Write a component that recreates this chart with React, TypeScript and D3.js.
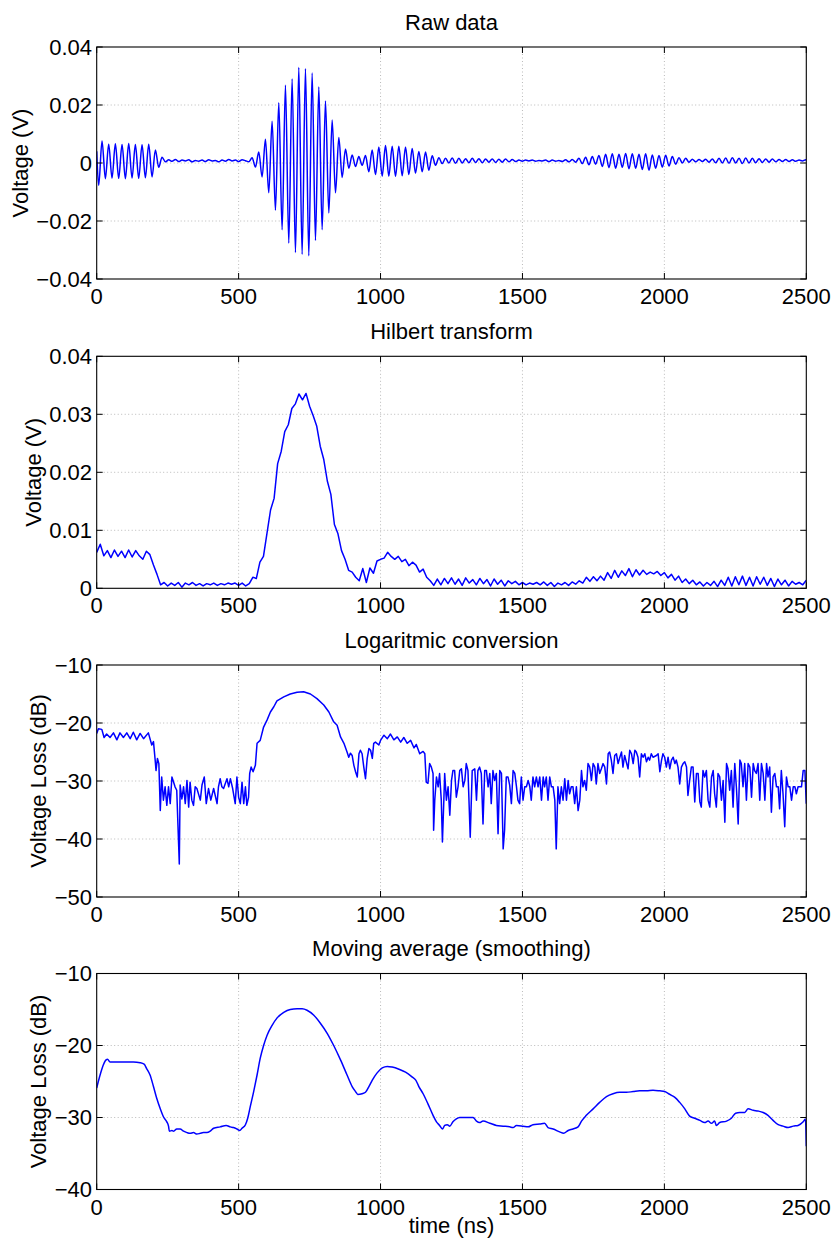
import React from 'react';
import * as d3 from 'd3';

// ---------------- DATA ----------------
const X_TICKS = [0, 500, 1000, 1500, 2000, 2500];
const RAW_TICKS = [-0.04, -0.02, 0, 0.02, 0.04];
const HIL_TICKS = [0, 0.01, 0.02, 0.03, 0.04];
const LOG_TICKS = [-50, -40, -30, -20, -10];
const AVG_TICKS = [-40, -30, -20, -10];

const TITLES = ['Raw data', 'Hilbert transform', 'Logaritmic conversion', 'Moving average (smoothing)'];
const YLABELS = ['Voltage (V)', 'Voltage (V)', 'Voltage Loss (dB)', 'Voltage Loss (dB)'];
const XLABEL = 'time (ns)';

// Raw signal: successive extrema (half-cycles) sampled every 11.75 ns from 7 ns
const RAW_T0 = 7;
const RAW_DT = 11.75;
const rawStart = 0.004;
const rawEnd = 0.0009;
const rawExtrema = [
  -0.0077, 0.0076, -0.0054, 0.0065, -0.0052, 0.0066, -0.0053, 0.0064, -0.0054, 0.0067, -0.0052, 0.0064, -0.0053, 0.0063, -0.0051, 0.0065, -0.0048, 0.0045, -0.0015, 0.0020,
  0.0004, 0.0011, 0.0006, 0.0012, 0.0005, 0.0010, 0.0007, 0.0011, 0.0004, 0.0009, 0.0006, 0.0010, 0.0005, 0.0011, 0.0007, 0.0009, 0.0004, 0.0010, 0.0006, 0.0012, 0.0007, 0.0010, 0.0005, 0.0011, 0.0008, 0.0004,
  0.0018, -0.0014, 0.0038, -0.0048, 0.0082, -0.0103, 0.0144, -0.0163, 0.0208, -0.0230, 0.0268, -0.0276, 0.0290, -0.0309, 0.0329, -0.0315, 0.0325, -0.0320, 0.0310, -0.0267, 0.0262, -0.0230, 0.0214, -0.0172, 0.0148, -0.0103, 0.0088, -0.0050, 0.0048, -0.0018, 0.0028,
  -0.0012, 0.0022, -0.0008, 0.0026, -0.0030, 0.0045, -0.0040, 0.0055, -0.0045, 0.0060, -0.0045, 0.0058, -0.0046, 0.0058, -0.0044, 0.0055, -0.0040, 0.0050, -0.0035, 0.0040, -0.0030, 0.0038, -0.0025, 0.0025,
  -0.0008, 0.0018, -0.0002, 0.0016, 0.0000, 0.0017, -0.0001, 0.0016, 0.0000, 0.0015, 0.0001, 0.0016, 0.0002, 0.0015, 0.0001, 0.0014, 0.0003, 0.0014, 0.0002, 0.0013, 0.0003, 0.0014, 0.0004, 0.0012, 0.0005,
  0.0010, 0.0006, 0.0010, 0.0007, 0.0010, 0.0006, 0.0009, 0.0007, 0.0010, 0.0005, 0.0010, 0.0006, 0.0009, 0.0005, 0.0011, 0.0004, 0.0012, 0.0003,
  0.0016, -0.0002, 0.0020, -0.0006, 0.0022, -0.0004, 0.0026, -0.0012, 0.0030, -0.0016, 0.0032, -0.0018, 0.0030, -0.0015, 0.0033, -0.0020, 0.0032, -0.0018, 0.0030, -0.0022, 0.0032, -0.0025, 0.0028, -0.0018, 0.0026, -0.0014, 0.0027, -0.0010, 0.0022, -0.0004,
  0.0018, 0.0000, 0.0016, 0.0003, 0.0013, 0.0004, 0.0012, 0.0005, 0.0013, 0.0003, 0.0014, 0.0001, 0.0016, 0.0000, 0.0017, -0.0001, 0.0018, 0.0000, 0.0016, -0.0002, 0.0017, 0.0000, 0.0016, 0.0001, 0.0015, 0.0002, 0.0014, 0.0003, 0.0014, 0.0004, 0.0012, 0.0005, 0.0012, 0.0005, 0.0011, 0.0006, 0.0010, 0.0007, 0.0011,
];

// Hilbert envelope sampled every 12.5 ns
const HIL_DT = 12.5;
const hilbertValues = [
  0.0062, 0.0076, 0.0056, 0.0065, 0.0053, 0.0066, 0.0055, 0.0064, 0.0053, 0.0066, 0.0054, 0.0065, 0.0056, 0.0050, 0.0064, 0.0058, 0.0040, 0.0024, 0.0006, 0.0010,
  0.0004, 0.0009, 0.0005, 0.0010, 0.0002, 0.0009, 0.0006, 0.0010, 0.0005, 0.0008, 0.0004, 0.0008, 0.0006, 0.0009, 0.0005, 0.0008, 0.0006, 0.0009, 0.0007, 0.0009, 0.0005, 0.0009, 0.0004, 0.0008,
  0.0019, 0.0017, 0.0045, 0.0055, 0.0095, 0.0135, 0.0155, 0.0215, 0.0236, 0.0270, 0.0282, 0.0310, 0.0318, 0.0335, 0.0325, 0.0336, 0.0314, 0.0298, 0.0280, 0.0245, 0.0222, 0.0185, 0.0162, 0.0110, 0.0094, 0.0065, 0.0050, 0.0031, 0.0028, 0.0019, 0.0013,
  0.0034, 0.0010, 0.0035, 0.0026, 0.0047, 0.0050, 0.0052, 0.0062, 0.0055, 0.0050, 0.0055, 0.0046, 0.0050, 0.0039, 0.0045, 0.0040, 0.0028, 0.0033, 0.0019, 0.0013, 0.0005,
  0.0016, 0.0006, 0.0017, 0.0008, 0.0018, 0.0007, 0.0016, 0.0005, 0.0018, 0.0009, 0.0015, 0.0006, 0.0017, 0.0008, 0.0015, 0.0004, 0.0016, 0.0007, 0.0014, 0.0004, 0.0013, 0.0008, 0.0012, 0.0006,
  0.0010, 0.0006, 0.0009, 0.0007, 0.0010, 0.0006, 0.0011, 0.0005, 0.0010, 0.0003, 0.0009, 0.0006, 0.0010, 0.0005, 0.0011, 0.0007,
  0.0013, 0.0009, 0.0019, 0.0012, 0.0020, 0.0013, 0.0021, 0.0014, 0.0027, 0.0017, 0.0031, 0.0019, 0.0030, 0.0022, 0.0034, 0.0020, 0.0032, 0.0023, 0.0031, 0.0024, 0.0028, 0.0025, 0.0029, 0.0022, 0.0027, 0.0018, 0.0024, 0.0014, 0.0021, 0.0010, 0.0016, 0.0008, 0.0014, 0.0006, 0.0011,
  0.0004, 0.0010, 0.0005, 0.0012, 0.0003, 0.0014, 0.0005, 0.0019, 0.0004, 0.0020, 0.0006, 0.0021, 0.0005, 0.0019, 0.0004, 0.0020, 0.0007, 0.0019, 0.0005, 0.0017, 0.0003, 0.0016, 0.0006, 0.0014, 0.0004, 0.0012, 0.0007, 0.0010, 0.0006, 0.0014,
];

// Logarithmic conversion: [time ns, dB]
const logPoints: [number, number][] = [
  [0,-21.8],[6,-21.0],[18,-21.1],[26,-22.5],[35,-21.9],[47,-22.5],[59,-21.7],[71,-22.9],[82,-21.7],[94,-22.5],[106,-21.7],[118,-22.7],[129,-21.6],[141,-22.9],[153,-21.8],[165,-22.7],[182,-21.7],[194,-23.8],[200,-23.2],[206,-26.4],[209,-28.2],[214,-26.1],[219,-27.0],[224,-35.1],[229,-29.3],[235,-33.3],[241,-31.0],[247,-34.2],[253,-31.0],[259,-33.9],[265,-29.3],[271,-30.2],[276,-31.0],[282,-31.6],[291,-44.3],[294,-30.7],[300,-33.1],[306,-31.0],[312,-33.9],[318,-29.9],[324,-34.5],[329,-30.2],[335,-33.3],[341,-34.2],[347,-31.0],[353,-31.3],[365,-33.3],[371,-30.7],[379,-29.3],[386,-33.9],[394,-31.3],[402,-33.3],[412,-31.3],[424,-33.9],[429,-31.0],[435,-29.6],[441,-31.0],[447,-31.3],[459,-29.6],[465,-31.0],[471,-29.6],[479,-31.3],[488,-33.9],[494,-29.3],[500,-32.8],[506,-33.9],[512,-30.2],[518,-33.9],[524,-31.0],[529,-34.2],[535,-32.8],[539,-28.7],[544,-27.6],[551,-28.4],[559,-27.3],[565,-23.5],[576,-23.0],[588,-20.7],[600,-19.5],[612,-18.1],[624,-17.2],[635,-16.2],[659,-15.5],[682,-15.0],[706,-14.7],[729,-14.6],[753,-15.0],[776,-15.8],[800,-16.9],[818,-18.1],[835,-19.8],[847,-20.4],[859,-22.4],[871,-23.5],[882,-25.0],[888,-25.9],[894,-25.2],[900,-25.6],[906,-27.3],[912,-28.4],[918,-29.3],[924,-25.3],[929,-24.7],[935,-25.3],[941,-27.6],[947,-29.6],[953,-26.1],[959,-24.4],[965,-24.7],[971,-26.1],[976,-23.5],[982,-23.3],[994,-23.8],[1000,-23.0],[1012,-22.1],[1024,-22.7],[1035,-21.9],[1047,-22.9],[1059,-22.4],[1071,-23.3],[1082,-22.5],[1094,-23.5],[1106,-23.0],[1118,-24.3],
  [1126,-23.7],[1138,-25.3],[1150,-24.9],[1156,-25.3],[1161,-30.2],[1167,-30.4],[1173,-27.0],[1179,-27.6],[1185,-28.7],[1187,-38.5],[1191,-33.3],[1197,-29.3],[1203,-31.0],[1208,-28.7],[1214,-33.3],[1218,-40.5],[1223,-33.3],[1226,-28.7],[1232,-33.3],[1238,-31.0],[1244,-35.9],[1250,-29.9],[1255,-28.2],[1261,-28.2],[1267,-32.8],[1273,-31.0],[1279,-28.2],[1285,-27.9],[1291,-31.0],[1297,-29.9],[1302,-27.0],[1308,-28.2],[1316,-39.7],[1323,-28.2],[1332,-27.9],[1338,-33.3],[1343,-28.2],[1349,-27.6],[1355,-28.7],[1361,-37.4],[1367,-28.2],[1373,-28.2],[1379,-31.0],[1385,-28.7],[1390,-33.9],[1396,-28.2],[1402,-29.9],[1408,-28.7],[1414,-39.1],[1420,-28.2],[1426,-28.7],[1432,-41.7],[1437,-38.5],[1443,-29.3],[1449,-29.3],[1455,-30.7],[1461,-33.9],[1467,-28.2],[1473,-28.7],[1479,-31.0],[1484,-33.3],[1490,-33.9],[1496,-29.3],[1502,-33.3],[1508,-31.0],[1514,-31.0],[1520,-29.9],[1526,-31.0],[1531,-33.3],[1537,-29.3],[1543,-31.0],[1549,-29.3],[1555,-31.0],[1561,-29.3],[1567,-33.3],[1573,-29.3],[1578,-31.0],[1584,-29.3],[1590,-33.3],[1596,-29.3],[1602,-31.0],[1608,-31.0],[1614,-33.3],[1619,-41.7],[1625,-31.0],[1631,-33.9],[1637,-31.0],[1643,-33.3],[1649,-29.6],[1655,-33.3],[1661,-29.9],[1666,-32.2],[1672,-31.0],[1678,-31.0],[1684,-33.9],[1690,-31.0],[1696,-35.1],[1702,-33.3],[1708,-28.2],[1713,-31.0],[1719,-29.9],[1725,-31.6],[1731,-27.0],[1737,-27.6],[1743,-29.9],[1749,-27.0],[1755,-27.6],[1760,-30.5],[1766,-27.0],[1772,-28.7],[1778,-27.9],[1784,-27.0],[1790,-27.6],[1796,-30.5],[1802,-25.3],[1807,-25.0],[1813,-26.4],[1819,-28.7],[1825,-25.6],[1831,-25.3],[1837,-27.0],[1843,-25.9],[1849,-25.0],[1854,-27.6],[1860,-25.6],[1872,-27.9],[1878,-24.7],[1884,-25.3],[1890,-27.0],[1896,-24.7],[1901,-25.0],[1907,-25.9],[1913,-29.3],[1919,-25.3],[1925,-25.9],[1931,-25.3],[1937,-26.7],[1943,-25.9],[1948,-26.4],[1954,-25.3],[1960,-25.9],[1972,-25.6],[1978,-25.3],[1984,-28.4],[1990,-26.4],[1995,-25.3],[2001,-25.9],[2007,-27.6],[2013,-25.9],[2019,-27.9],[2025,-26.4],[2031,-25.9],[2037,-27.0],[2042,-26.4],[2048,-27.6],[2054,-30.5],[2060,-27.6],[2066,-27.0],[2072,-26.7],[2078,-27.6],[2083,-32.5],[2089,-29.9],[2095,-27.6],[2101,-27.6],[2107,-33.6],[2113,-28.7],[2119,-28.7],[2125,-33.6],[2130,-34.5],[2136,-28.2],[2142,-29.3],[2148,-28.2],[2154,-33.3],[2160,-34.5],[2166,-29.3],[2172,-28.2],[2177,-32.2],[2183,-34.5],[2189,-28.7],[2195,-29.3],[2201,-33.3],[2207,-29.9],[2213,-37.1],[2219,-27.0],[2224,-27.9],[2230,-31.6],[2236,-28.2],[2242,-34.5],[2248,-27.0],[2254,-31.3],[2260,-37.4],[2266,-26.4],[2271,-27.0],[2277,-31.0],[2283,-27.0],[2289,-33.3],[2295,-27.0],[2301,-27.6],[2307,-32.8],[2313,-27.0],[2318,-28.2],[2324,-28.7],[2330,-27.0],[2336,-33.3],[2342,-27.0],[2348,-28.7],[2354,-33.3],[2360,-27.0],[2365,-29.3],[2371,-27.6],[2377,-35.4],[2383,-29.3],[2389,-28.7],[2395,-31.0],[2401,-31.0],[2406,-34.8],[2412,-28.2],[2418,-32.2],[2424,-37.9],[2430,-29.3],[2436,-31.0],[2442,-31.0],[2448,-33.3],[2454,-31.0],[2460,-31.0],[2465,-32.2],[2471,-31.0],[2477,-31.0],[2483,-31.0],[2489,-28.2],[2495,-28.2],[2500,-33.9],
];

// Moving average: [time ns, dB]
const avgPoints: [number, number][] = [
  [0,-25.9],[33,-22.0],[38,-21.9],[47,-22.3],[82,-22.3],[129,-22.3],[153,-22.4],[167,-22.6],[176,-23.2],[188,-24.1],[200,-25.7],[212,-27.4],[224,-28.8],[235,-29.9],[247,-30.6],[253,-31.2],[256,-31.9],[265,-31.8],[271,-31.9],[282,-31.6],[294,-31.6],[306,-31.9],[318,-32.1],[329,-32.2],[341,-32.1],[353,-32.3],[365,-32.2],[376,-32.1],[388,-32.1],[400,-31.9],[412,-31.5],[435,-31.3],[456,-31.1],[471,-31.3],[482,-31.4],[494,-31.6],[504,-31.8],[512,-31.5],[524,-31.0],[532,-30.1],[541,-28.5],[553,-26.4],[565,-24.1],[576,-21.8],[588,-20.0],[600,-18.6],[618,-17.2],[635,-16.2],[659,-15.4],[682,-15.0],[706,-14.9],[724,-14.9],[741,-15.1],[765,-15.8],[788,-16.9],[812,-18.3],[835,-20.0],[859,-22.0],[882,-24.1],[900,-25.7],[912,-26.4],[920,-26.8],[935,-26.7],[947,-26.5],[959,-25.7],[971,-24.8],[988,-23.8],[1006,-23.1],[1024,-22.9],[1041,-23.0],[1065,-23.3],[1088,-23.7],[1112,-24.4],[1124,-24.8],[1135,-25.7],
  [1150,-26.7],[1167,-28.1],[1185,-29.7],[1197,-30.6],[1208,-31.1],[1218,-31.6],[1226,-31.1],[1235,-31.0],[1244,-31.2],[1255,-30.6],[1267,-30.2],[1279,-30.0],[1302,-30.0],[1326,-30.0],[1338,-30.5],[1349,-30.7],[1361,-30.5],[1385,-30.8],[1408,-31.1],[1432,-31.2],[1455,-31.3],[1467,-31.4],[1479,-31.1],[1502,-31.2],[1520,-31.3],[1537,-31.0],[1561,-30.9],[1578,-30.8],[1590,-31.4],[1608,-31.6],[1631,-32.0],[1645,-32.2],[1661,-31.8],[1678,-31.6],[1696,-31.3],[1708,-30.5],[1725,-29.7],[1749,-28.8],[1772,-27.9],[1796,-27.1],[1819,-26.7],[1843,-26.5],[1866,-26.5],[1890,-26.4],[1913,-26.3],[1937,-26.3],[1960,-26.2],[1984,-26.3],[2001,-26.4],[2019,-26.8],[2037,-27.2],[2054,-27.9],[2072,-28.8],[2089,-29.8],[2107,-30.1],[2125,-30.4],[2142,-30.7],[2154,-30.5],[2166,-30.8],[2177,-30.5],[2183,-31.1],[2195,-30.7],[2219,-30.5],[2236,-30.1],[2251,-29.4],[2266,-29.3],[2283,-29.3],[2295,-28.8],[2313,-29.0],[2330,-29.1],[2348,-29.3],[2365,-29.7],[2383,-30.4],[2401,-31.0],[2418,-31.2],[2436,-31.4],[2454,-31.2],[2471,-31.1],[2489,-30.6],[2497,-30.2],[2500,-34.0],
];

// ---------------- LAYOUT ----------------
const W = 833;
const H = 1238;
const PLOT_L = 96.7;
const PLOT_R = 806.3;
const FONT = '"Liberation Sans", Arial, Helvetica, sans-serif';
const FS = 22;
const BLUE = '#0000ff';

const rawData: [number, number][] = [
  [0, rawStart],
  ...rawExtrema.map((v, i) => [RAW_T0 + RAW_DT * i, v] as [number, number]),
  [2500, rawEnd],
];
const hilbertData: [number, number][] = hilbertValues.map((v, i) => [i * HIL_DT, v]);

const fmt = (v: number) => {
  const s = String(Math.round(Math.abs(v) * 1e6) / 1e6);
  return v < 0 ? '\u2212' + s : s;
};

type PanelCfg = {
  top: number;
  bottom: number;
  domain: [number, number];
  ticks: number[];
  data: [number, number][];
  curve: d3.CurveFactory;
  title: string;
  ylabel: string;
  ylabelX: number;
  xlabel?: string;
};

const panels: PanelCfg[] = [
  { top: 47, bottom: 279, domain: [-0.04, 0.04], ticks: RAW_TICKS, data: rawData, curve: d3.curveMonotoneX, title: TITLES[0], ylabel: YLABELS[0], ylabelX: 28 },
  { top: 356.3, bottom: 588.3, domain: [0, 0.04], ticks: HIL_TICKS, data: hilbertData, curve: d3.curveLinear, title: TITLES[1], ylabel: YLABELS[1], ylabelX: 41 },
  { top: 665, bottom: 897, domain: [-50, -10], ticks: LOG_TICKS, data: logPoints, curve: d3.curveLinear, title: TITLES[2], ylabel: YLABELS[2], ylabelX: 46 },
  { top: 973.5, bottom: 1189.5, domain: [-40, -10], ticks: AVG_TICKS, data: avgPoints, curve: d3.curveMonotoneX, title: TITLES[3], ylabel: YLABELS[3], ylabelX: 46, xlabel: XLABEL },
];

function Panel({ cfg, idx }: { cfg: PanelCfg; idx: number }) {
  const x = d3.scaleLinear().domain([0, 2500]).range([PLOT_L, PLOT_R]);
  const y = d3.scaleLinear().domain(cfg.domain).range([cfg.bottom, cfg.top]);
  const line = d3
    .line<[number, number]>()
    .x((d) => x(d[0]))
    .y((d) => y(d[1]))
    .curve(cfg.curve);
  const clipId = `clip${idx}`;
  const tl = 6;
  const cx = (PLOT_L + PLOT_R) / 2;
  const cy = (cfg.top + cfg.bottom) / 2;
  const [d0, d1] = cfg.domain;
  return (
    <g>
      <defs>
        <clipPath id={clipId}>
          <rect x={PLOT_L} y={cfg.top} width={PLOT_R - PLOT_L} height={cfg.bottom - cfg.top} />
        </clipPath>
      </defs>
      {X_TICKS.filter((t) => t > 0 && t < 2500).map((t) => (
        <line key={'gx' + t} x1={x(t)} x2={x(t)} y1={cfg.top} y2={cfg.bottom} stroke="#a8a8a8" strokeWidth={0.8} strokeDasharray="1,2.5" />
      ))}
      {cfg.ticks.filter((t) => t > d0 && t < d1).map((t) => (
        <line key={'gy' + t} x1={PLOT_L} x2={PLOT_R} y1={y(t)} y2={y(t)} stroke="#a8a8a8" strokeWidth={0.8} strokeDasharray="1,2.5" />
      ))}
      <path d={line(cfg.data) || ''} fill="none" stroke={BLUE} strokeWidth={1.5} strokeLinejoin="round" clipPath={`url(#${clipId})`} />
      {X_TICKS.map((t) => (
        <g key={'tx' + t}>
          <line x1={x(t)} x2={x(t)} y1={cfg.bottom} y2={cfg.bottom - tl} stroke="#000" strokeWidth={1} />
          <line x1={x(t)} x2={x(t)} y1={cfg.top} y2={cfg.top + tl} stroke="#000" strokeWidth={1} />
          <text x={x(t)} y={cfg.bottom + 25} textAnchor="middle" fontFamily={FONT} fontSize={FS} fill="#000">
            {fmt(t)}
          </text>
        </g>
      ))}
      {cfg.ticks.map((t) => (
        <g key={'ty' + t}>
          <line x1={PLOT_L} x2={PLOT_L + tl} y1={y(t)} y2={y(t)} stroke="#000" strokeWidth={1} />
          <line x1={PLOT_R} x2={PLOT_R - tl} y1={y(t)} y2={y(t)} stroke="#000" strokeWidth={1} />
          <text x={92} y={y(t) + 7.8} textAnchor="end" fontFamily={FONT} fontSize={FS} fill="#000">
            {fmt(t)}
          </text>
        </g>
      ))}
      <rect x={PLOT_L} y={cfg.top} width={PLOT_R - PLOT_L} height={cfg.bottom - cfg.top} fill="none" stroke="#000" strokeWidth={1.1} />
      <text x={cx} y={cfg.top - 17.5} textAnchor="middle" fontFamily={FONT} fontSize={FS} fill="#000">
        {cfg.title}
      </text>
      <text
        transform={`translate(${cfg.ylabelX},${cy}) rotate(-90)`}
        textAnchor="middle"
        fontFamily={FONT}
        fontSize={FS}
        fill="#000"
      >
        {cfg.ylabel}
      </text>
      {cfg.xlabel && (
        <text x={cx} y={cfg.bottom + 43} textAnchor="middle" fontFamily={FONT} fontSize={FS} fill="#000">
          {cfg.xlabel}
        </text>
      )}
    </g>
  );
}

export default function App() {
  return (
    <svg
      width={W}
      height={H}
      viewBox={`0 0 ${W} ${H}`}
      style={{ position: 'absolute', left: 0, top: 0, background: '#fff' }}
      xmlns="http://www.w3.org/2000/svg"
    >
      <rect x={0} y={0} width={W} height={H} fill="#fff" />
      {panels.map((p, i) => (
        <Panel key={i} cfg={p} idx={i} />
      ))}
    </svg>
  );
}
